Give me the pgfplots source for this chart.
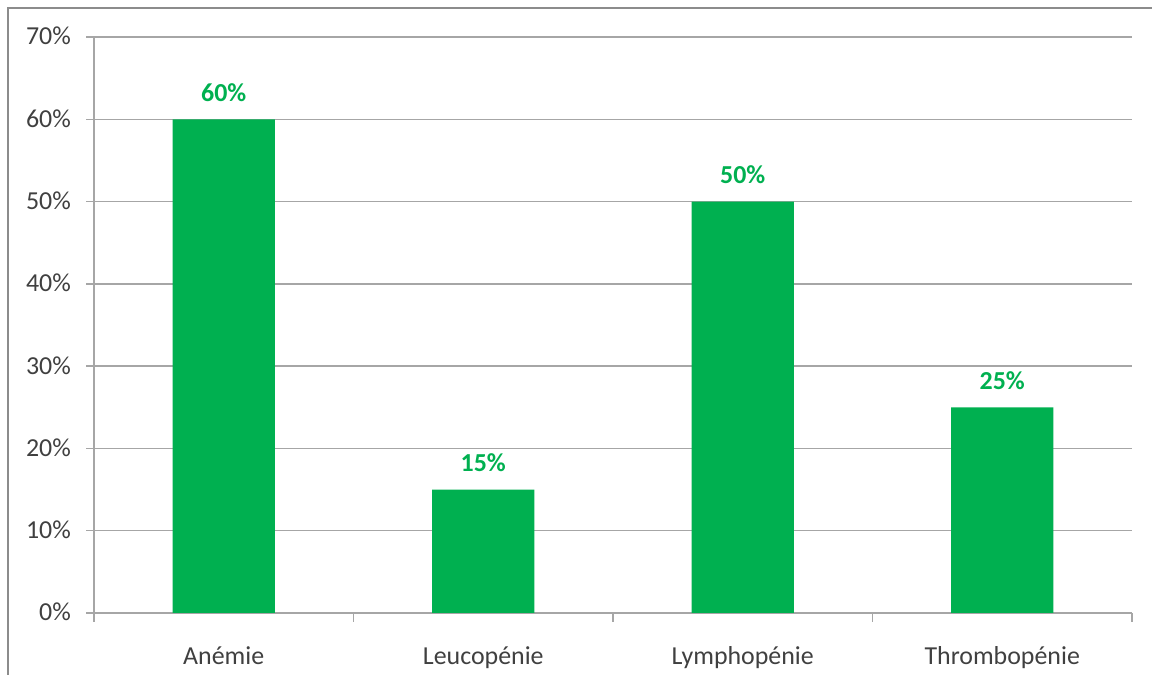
\documentclass[border=0pt]{standalone}
\usepackage{pgfplots}
\pgfplotsset{compat=1.18}
\usepackage{fontspec}
\setmainfont{Carlito}
\definecolor{bargreen}{RGB}{0,176,80}
\definecolor{gridgray}{RGB}{166,166,166}
\definecolor{framegray}{RGB}{140,140,140}
\definecolor{txt}{RGB}{64,64,64}
\begin{document}
\begin{tikzpicture}[x=1bp,y=1bp]
\path[use as bounding box] (0,0) rectangle (1152,675);
\draw[color=framegray, line width=1.5bp] (8,0) -- (8,667) -- (1152,667);
\begin{axis}[
  at={(94bp,62bp)}, anchor=south west, scale only axis,
  width=1038bp, height=576bp,
  xmin=-0.5, xmax=3.5, ymin=0, ymax=70,
  axis lines*=left,
  axis line style={gridgray, line width=1.3bp},
  ytick={0,10,20,30,40,50,60,70},
  yticklabels={0\%,10\%,20\%,30\%,40\%,50\%,60\%,70\%},
  ymajorgrids, grid style={gridgray, line width=1.3bp},
  tick align=outside, major tick length=8bp,
  tick style={gridgray, line width=1.3bp},
  xtick={0,1,2,3},
  xticklabels={Anémie,Leucopénie,Lymphopénie,Thrombopénie},
  x tick style={draw=none},
  extra x ticks={-0.5,0.5,1.5,2.5,3.5},
  extra x tick labels={},
  extra x tick style={grid=none, x tick style={draw=gridgray, line width=1.3bp}, major tick length=9bp},
  ticklabel style={font=\fontsize{26}{30}\selectfont, text=txt, inner sep=0pt},
  yticklabel style={anchor=base east, xshift=-15bp, yshift=-8bp},
  xticklabel style={anchor=base, yshift=-44bp},
  clip=false,
]
\addplot[ybar, bar width=102bp, fill=bargreen, draw=none,
  /pgf/number format/assume math mode=true,
  nodes near coords={\pgfmathprintnumber{\pgfplotspointmeta}\%},
  every node near coord/.append style={font=\bfseries\fontsize{26}{30}\selectfont, text=bargreen, anchor=base, yshift=18bp, inner sep=0pt}]
  coordinates {(0,60) (1,15) (2,50) (3,25)};
\end{axis}
\end{tikzpicture}
\end{document}
